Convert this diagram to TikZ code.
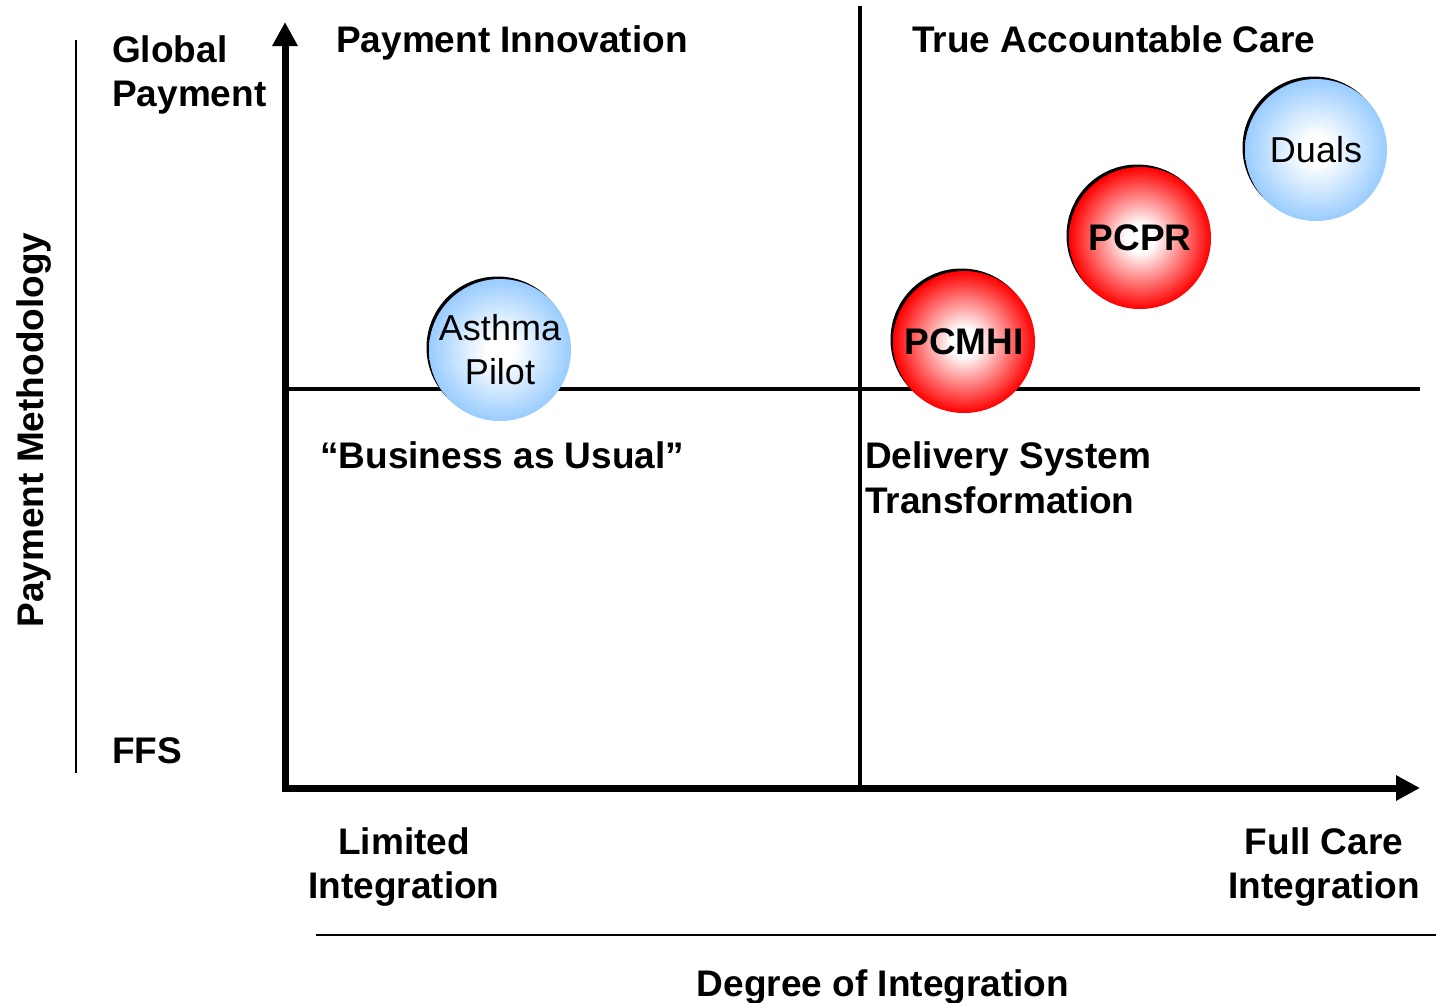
\documentclass[tikz,border=0pt]{standalone}
\usepackage{fontspec}
\setmainfont{Liberation Sans}
\usetikzlibrary{arrows.meta}
\definecolor{ballblue}{RGB}{153,204,255}
\definecolor{ballred}{RGB}{255,0,0}
\pgfdeclareradialshading{blueball}{\pgfpoint{0bp}{0bp}}{color(0bp)=(white); color(5bp)=(white); color(25bp)=(ballblue); color(50bp)=(ballblue)}
\pgfdeclareradialshading{redball}{\pgfpoint{0bp}{0bp}}{color(0bp)=(white); color(5bp)=(white); color(25bp)=(ballred); color(50bp)=(ballred)}
\begin{document}
\begin{tikzpicture}[x=1pt,y=-1pt,
  lbl/.style={font=\fontsize{37}{44}\selectfont\bfseries, inner sep=0},
  reg/.style={font=\fontsize{36}{44}\selectfont, inner sep=0},
  axisline/.style={line width=7pt, line join=miter, {Triangle[width=24pt,length=24pt]}-{Triangle[width=24pt,length=24pt]}},
  divider/.style={line width=4pt},
  thinline/.style={line width=2pt},
  ball/.style={circle, minimum size=142pt, inner sep=0pt, shade, align=center}]
\useasboundingbox (0,0) rectangle (1436,1002);
% coordinates
\coordinate (ytip) at (285,22);
\coordinate (orig) at (285,788);
\coordinate (xtip) at (1420,788);
\coordinate (vtop) at (860,6);
\coordinate (vbot) at (860,788);
\coordinate (hleft) at (285,389);
\coordinate (hright) at (1420,389);
\coordinate (ltop) at (76,40);
\coordinate (lbot) at (76,773);
\coordinate (bleft) at (316,935);
\coordinate (bright) at (1436,935);
\coordinate (cA) at (500,350);
\coordinate (cM) at (964,342);
\coordinate (cP) at (1140,238);
\coordinate (cD) at (1316,150);
% lines
\draw[thinline] (ltop) -- (lbot);
\draw[thinline] (bleft) -- (bright);
\draw[divider] (vtop) -- (vbot);
\draw[divider] (hleft) -- (hright);
\draw[axisline] (ytip) -- (orig) -- (xtip);
% ball rims
\foreach \c in {cA,cM,cP,cD}
  \fill[black] ([shift={(-2.5,-2.5)}]\c) circle (71);
% balls
\node[ball, shading=blueball, reg] (asthma) at (cA) {Asthma\\Pilot};
\node[ball, shading=redball, lbl] (pcmhi) at (cM) {PCMHI};
\node[ball, shading=redball, lbl] (pcpr) at (cP) {PCPR};
\node[ball, shading=blueball, reg] (duals) at (cD) {Duals};
% labels
\node[lbl, anchor=base west] (global) at (112,62) {Global};
\node[lbl, anchor=base west] (payment) at (112,106) {Payment};
\node[lbl, anchor=base west] (payinno) at (336,52) {Payment Innovation};
\node[lbl, anchor=base west] (tac) at (912,52) {True Accountable Care};
\node[lbl, anchor=base west] (bau) at (320,468) {“Business as Usual”};
\node[lbl, anchor=base west] (dst1) at (865,468) {Delivery System};
\node[lbl, anchor=base west] (dst2) at (865,513) {Transformation};
\node[lbl, anchor=base west] (ffs) at (112,763) {FFS};
\node[lbl, anchor=base] (lim1) at (404,854) {Limited};
\node[lbl, anchor=base] (lim2) at (404,898) {Integration};
\node[lbl, anchor=base] (full1) at (1324,854) {Full Care};
\node[lbl, anchor=base] (full2) at (1324,898) {Integration};
\node[lbl, anchor=base] (degree) at (883,996) {Degree of Integration};
\node[lbl, anchor=base, rotate=90] (paymeth) at (43,430) {Payment Methodology};
\end{tikzpicture}
\end{document}
